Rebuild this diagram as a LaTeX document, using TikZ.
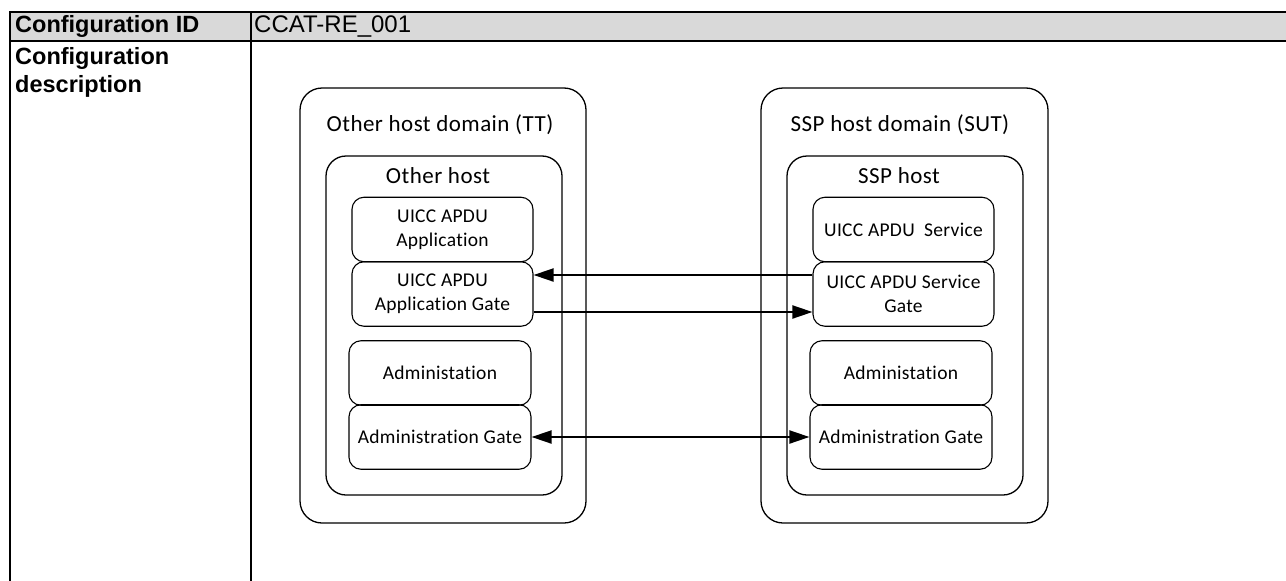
\documentclass[tikz,border=0pt]{standalone}
\usepackage{fontspec}
\setmainfont{Liberation Sans}
\newfontfamily\diafont[LetterSpace=2,Ligatures=NoCommon]{Carlito}
\newfontfamily\boxfont[LetterSpace=1.5,Ligatures=NoCommon]{Carlito}
\usetikzlibrary{arrows.meta}
\begin{document}
\begin{tikzpicture}[x=1pt,y=-1pt,
  tbl/.style={line width=2pt},
  tbltext/.style={inner sep=0pt,font=\fontsize{24}{28}\selectfont},
  tblbold/.style={inner sep=0pt,font=\bfseries\fontsize{23.5}{28}\selectfont},
  domain/.style={draw,line width=1.3pt,rounded corners=22pt,minimum width=#1,minimum height=435pt,inner sep=0pt},
  host/.style={draw,line width=1.3pt,rounded corners=20pt,minimum width=236pt,minimum height=339pt,inner sep=0pt},
  title/.style={inner sep=0pt,font=\diafont\fontsize{23}{27}\selectfont},
  blk/.style={draw,line width=1.1pt,rounded corners=12pt,minimum width=#1,minimum height=64.5pt,inner sep=0pt,align=center,font=\boxfont\fontsize{19.5}{24}\selectfont},
  arr/.style={line width=2pt,-{Triangle[length=20pt,width=13pt]}},
  darr/.style={line width=2pt,{Triangle[length=20pt,width=13pt]}-{Triangle[length=20pt,width=13pt]}}]
\useasboundingbox (0,0) rectangle (1286,581);
% table
\fill[black!15] (10,12) rectangle (1290,41);
\draw[tbl] (10,12) -- (1290,12);
\draw[tbl] (10,41) -- (1290,41);
\draw[tbl] (10,11) -- (10,590);
\draw[tbl] (251,11) -- (251,590);
\node[tblbold,anchor=base west] (cid) at (15,32) {Configuration ID};
\node[tbltext,anchor=base west] (cval) at (254,32) {CCAT-RE\_001};
\node[tblbold,anchor=base west] (cd1) at (15,64) {Configuration};
\node[tblbold,anchor=base west] (cd2) at (15,92) {description};
% left domain
\node[domain=286pt] (ldom) at (443,305.5) {};
\node[host] (lhost) at (444,325.5) {};
\node[title] (ldomt) at (440,125) {Other host domain (TT)};
\node[title] (lhostt) at (438,176) {Other host};
\node[blk=181pt] (lapp) at (442.5,229.5) {UICC APDU\\Application};
\node[blk=181pt] (lgate) at (442.5,294) {UICC APDU\\Application Gate};
\node[blk=182pt] (ladm) at (440,373) {Administation};
\node[blk=182pt] (lagate) at (440,437) {Administration Gate};
% right domain
\node[domain=287pt] (rdom) at (904.5,305.5) {};
\node[host] (rhost) at (905,325.5) {};
\node[title] (rdomt) at (900,125) {SSP host domain (SUT)};
\node[title] (rhostt) at (899,176) {SSP host};
\node[blk=181pt] (rsvc) at (903.5,229.5) {UICC APDU\ \ Service};
\node[blk=181pt] (rgate) at (903.5,294) {UICC APDU Service\\Gate};
\node[blk=182pt] (radm) at (901,373) {Administation};
\node[blk=182pt] (ragate) at (901,437) {Administration Gate};
% connectors
\draw[arr] ([yshift=19pt]rgate.west) -- ([yshift=19pt]lgate.east);
\draw[arr] ([yshift=-18pt]lgate.east) -- ([yshift=-18pt]rgate.west);
\draw[darr] (lagate.east) -- (ragate.west);
\end{tikzpicture}
\end{document}
